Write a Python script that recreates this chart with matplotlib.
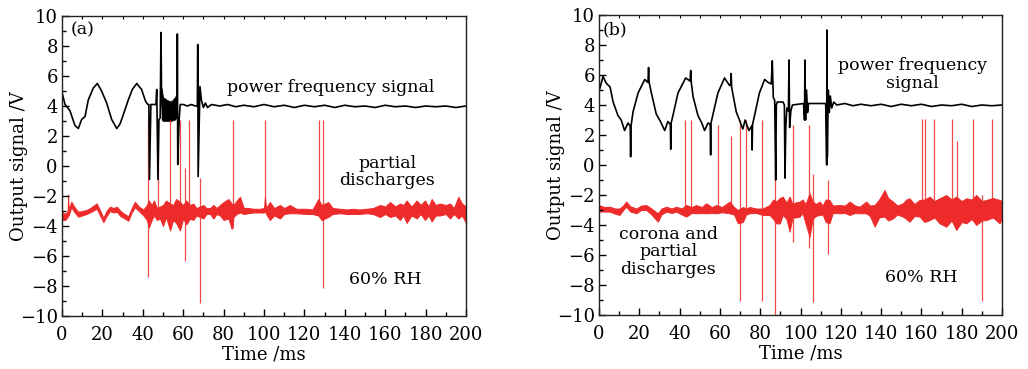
import matplotlib
matplotlib.use("Agg")
import matplotlib.pyplot as plt
from matplotlib.ticker import MultipleLocator

plt.rcParams['font.family'] = ['DejaVu Serif']
plt.rcParams['mathtext.fontset'] = 'dejavuserif'

# ---------------- Panel (a) data ----------------
a_black_t = [0, 1.5, 3.9, 6.4, 8.1, 9.7, 11.4, 13, 15.5, 17.5, 19.6, 22.1, 24.6, 27.1, 28.7,
             30.3, 32.8, 34.8, 37, 39.4, 41.4, 42.5, 43.0, 43.3, 44, 46.5, 46.9, 47.5, 48,
             48.6, 49.0, 49.3, 50, 52, 54, 56, 57.0, 57.1, 57.3, 58.0, 58.5, 60, 62, 64, 66,
             67.0, 67.2, 67.4, 68.3, 69, 70, 71, 72, 74, 78, 82, 86, 90, 95, 100, 105, 110,
             115, 120, 125, 130, 135, 140, 145, 150, 155, 160, 165, 170, 175, 180, 185, 190,
             195, 200]
a_black_v = [4.9, 4.1, 3.7, 2.7, 2.5, 3.1, 3.3, 4.4, 5.2, 5.5, 5.0, 4.2, 3.1, 2.5, 2.8,
             3.4, 4.4, 5.1, 5.5, 5.1, 4.3, 4.1, 4.1, -0.9, 4.1, 4.1, 5.1, -0.9, 3.1,
             3.2, 8.9, 4.6, 3.2, 4.2, 3.2, 4.4, 3.6, 8.8, 0.1, 3.1, 4.1, 4.1, 4.0, 4.1, 4.0,
             4.0, 8.1, -0.7, 5.3, 4.4, 3.9, 4.2, 3.9, 4.1, 4.0, 4.1, 3.95, 4.05, 3.95, 4.1, 3.95, 4.05,
             3.9, 4.05, 3.95, 4.05, 3.9, 4.05, 3.95, 4.0, 3.9, 4.05, 3.95, 4.0, 3.9, 4.0, 3.95, 4.0,
             3.9, 4.0]
a_bband_t = [49.3, 50, 52, 54, 56, 57.0]
a_bband_hi = [5.2, 4.6, 4.4, 4.3, 4.6, 5.0]
a_bband_lo = [3.1, 3.0, 3.0, 3.0, 3.1, 3.3]

a_red_t = [0, 1.5, 2.8, 3.0, 3.3, 4.6, 6, 8, 10, 12.2, 14.5, 17.2, 19, 20.5, 22, 23.8, 25.5,
           27.1, 29, 31, 32.8, 34.5, 36.1, 38, 40.3, 42, 43, 44.4, 45.5, 47, 48.5, 50, 51.5,
           53.5, 55, 56.5, 58.4, 60, 61.5, 63.4, 65, 66.5, 68.3, 70, 71.5, 73.3, 75, 76.5,
           78.2, 80, 82.4, 84, 84.9, 86.5, 88.1, 90, 92.2, 95, 98, 100.0, 100.5, 101.0,
           102.9, 105, 107.9, 110, 112.8, 116, 121.1, 124, 126.9, 128.5, 131.8, 134, 137.6,
           141, 144.2, 147, 150.8, 154, 157.4, 160, 162.4, 165, 167.3, 169, 170.6, 173,
           175.6, 177.5, 179.7, 181.5, 183, 185, 187.1, 190, 192.1, 194, 196.2, 198, 200]
a_red_hi = [-3.05, -3.2, -3.0, -1.9, -2.9, -2.38, -2.7, -3.05, -3.0, -2.93, -2.75, -2.49,
            -3.0, -3.45, -3.0, -2.71, -2.8, -2.71, -3.0, -3.2, -3.35, -2.8, -2.38, -2.7,
            -2.9, -2.6, -2.3, -2.6, -2.3, -2.8, -2.7, -2.6, -2.3, -2.5, -2.6, -2.2, -2.4,
            -2.6, -2.3, -2.6, -2.5, -2.8, -2.7, -2.6, -2.8, -2.8, -2.6, -2.8, -2.6, -2.4,
            -2.2, -2.5, -2.6, -2.3, -2.05, -2.8, -2.8, -2.85, -2.85, -2.8, -2.05, -2.8,
            -2.4, -2.8, -2.6, -2.8, -2.6, -2.85, -2.85, -2.9, -2.2, -2.6, -2.4, -2.8, -2.85,
            -2.9, -2.85, -2.9, -2.85, -2.8, -2.6, -2.7, -2.4, -2.7, -2.5, -2.6, -2.3, -2.7,
            -2.3, -2.6, -2.3, -2.7, -2.2, -2.6, -2.5, -2.6, -2.5, -2.8, -2.05, -2.5, -2.7]
a_red_lo = [-3.6, -3.6, -3.4, -3.2, -3.3, -2.75, -3.05, -3.38, -3.3, -3.2, -3.05, -2.85,
            -3.35, -3.75, -3.35, -3.0, -3.1, -3.05, -3.35, -3.5, -3.65, -3.1, -2.75, -3.0,
            -3.3, -3.6, -4.1, -3.6, -3.3, -3.6, -3.5, -4.0, -3.4, -4.3, -3.6, -3.8, -4.3,
            -3.5, -3.9, -3.5, -3.6, -3.3, -3.4, -3.5, -3.2, -3.2, -3.5, -3.2, -3.3, -3.6,
            -3.5, -4.2, -3.4, -3.2, -3.1, -3.2, -3.15, -3.1, -3.1, -3.1, -3.0, -3.2,
            -3.6, -3.3, -3.5, -3.2, -3.15, -3.15, -3.2, -3.2, -3.3, -3.6, -3.4, -3.2, -3.15,
            -3.2, -3.2, -3.2, -3.15, -3.2, -3.4, -3.2, -3.4, -3.3, -3.6, -3.3, -3.8, -3.3,
            -3.5, -3.2, -3.6, -3.3, -3.7, -3.3, -3.3, -3.2, -3.5, -3.2, -3.5, -3.3, -3.8]

a_spike_t = [42.7, 47.4, 53.5, 58.4, 61.0, 62.7, 68.3, 84.6, 100.5, 127.4, 129.4]
a_spike_top = [3.07, 2.6, 3.07, 3.07, -0.1, 3.07, -0.8, 3.07, 3.07, 3.07, 3.07]
a_spike_bot = [-7.4, -3.0, -3.0, -3.0, -6.3, -3.0, -9.1, -4.1, -3.0, -3.0, -8.1]

# ---------------- Panel (b) data ----------------
b_black_t = [0, 2, 3.6, 5.5, 7, 9.4, 11, 12.7, 14.4, 15.5, 15.7, 15.9, 16.9, 19.4, 22.7,
             24.3, 24.6, 24.9, 26, 28.4, 30.5, 32.6, 34.2, 35.4, 35.6, 35.8, 36.7, 39.2,
             43, 45.2, 45.5, 45.8, 46.7, 49.1, 51, 52.4, 54.1, 55.2, 55.4, 55.6, 56.6, 59,
             62.3, 64.8, 65.4, 65.6, 65.8, 68.1, 71.4, 72.5, 74.4, 75.8, 76.0, 76.2, 77.2,
             79.6, 82.2, 84, 85.5, 86.0, 86.5, 87.2, 87.7, 88.0, 88.5, 91.3, 92.0, 92.3,
             92.7, 93.2, 94.0, 94.3, 94.6, 95.2, 96, 101.5, 102.0, 102.2, 102.5, 103, 103.5,
             104, 108, 112.5, 113.0, 113.1, 113.3, 113.8, 114.3, 114.8, 115.5, 116.5, 118,
             122, 126, 130, 135, 140, 145, 150, 155, 160, 165, 170, 175, 180, 185, 190, 195,
             200]
b_black_v = [4.9, 5.9, 5.45, 5.2, 4.2, 3.3, 3.0, 2.3, 2.8, 2.6, 0.55, 2.6, 3.55, 4.8, 5.7,
             5.5, 6.5, 5.5, 4.8, 3.4, 2.9, 2.3, 2.9, 2.7, 1.05, 2.8, 3.3, 4.8,
             5.8, 5.6, 6.3, 5.5, 4.55, 3.3, 2.8, 2.3, 2.8, 2.7, 0.67, 2.8, 3.4, 4.8,
             5.8, 5.3, 5.4, 6.1, 5.2, 3.55, 2.4, 3.0, 2.3, 2.6, 1.0, 2.7, 3.3,
             4.8, 5.7, 5.5, 5.4, 6.95, 4.5, 4.3, -1.0, 4.0, 4.2, 4.2, 4.0, -0.87,
             2.5, 3.8, 3.6, 7.0, 2.5, 3.6, 4.0, 4.1, 3.0, 7.0, 3.0, 5.0, 3.5,
             4.1, 4.1, 4.1, 0.0, 9.0, 0.5, 5.0, 3.5, 4.6, 3.8, 4.2, 4.0,
             4.1, 3.95, 4.05, 3.95, 4.05, 3.9, 4.05, 3.95, 4.05, 3.9, 4.0, 3.95, 4.05, 3.9, 4.0,
             3.95, 4.0]

b_red_t = [0, 2.5, 5.3, 8, 10.2, 12, 13.5, 15.5, 18.5, 21, 23.5, 26, 29.2, 31, 33.4, 36,
           38.3, 41, 43.3, 46, 48.2, 51, 53.2, 56, 58.2, 61, 64.8, 67, 68.9, 71.4, 73, 74.7,
           78, 81.3, 84.6, 86.5, 87.9, 89.7, 91.2, 93, 94.6, 96, 97.5, 99.6, 101, 102.5,
           104.5, 106, 107.5, 109.5, 111, 112.5, 114.4, 116, 119.4, 122, 124.4, 127, 129.3,
           132.6, 134.5, 136.8, 139, 141.7, 143.5, 145.9, 148, 150.8, 152.5, 154.1, 156.5,
           159.1, 161.5, 164.1, 166.5, 169, 172.3, 175, 177.3, 180, 182.3, 185, 187.2, 190,
           192.2, 195.5, 198.8, 200]
b_red_hi = [-2.67, -2.8, -2.78, -2.9, -2.9, -2.7, -2.44, -2.75, -2.9, -2.7, -2.67, -2.9,
            -3.22, -2.9, -2.78, -2.9, -2.78, -2.9, -2.67, -2.8, -2.67, -2.8, -2.55, -2.8,
            -2.67, -2.8, -2.44, -2.8, -3.0, -2.8, -2.9, -2.8, -2.9, -2.9, -2.67, -2.3,
            -2.44, -2.2, -2.11, -2.5, -2.11, -2.6, -2.5, -2.44, -2.3, -2.6, -1.89, -2.4,
            -2.6, -2.44, -2.7, -2.3, -2.33, -2.7, -2.67, -2.7, -2.44, -2.7, -2.78, -2.44,
            -2.7, -2.67, -2.3, -1.67, -2.2, -2.44, -2.7, -2.55, -2.3, -2.22, -2.6, -2.33,
            -2.3, -2.11, -2.4, -2.22, -2.0, -2.3, -2.11, -2.4, -2.22, -2.3, -2.0, -2.4,
            -2.33, -2.2, -2.33, -2.4]
b_red_lo = [-3.11, -3.1, -3.11, -3.25, -3.33, -3.0, -2.78, -3.1, -3.22, -3.0, -3.0, -3.3,
            -3.78, -3.3, -3.11, -3.2, -3.11, -3.3, -3.44, -3.2, -3.22, -3.2, -3.22, -3.2,
            -3.22, -3.15, -3.22, -3.3, -3.89, -3.8, -3.3, -3.22, -3.2, -3.33, -3.33, -3.6,
            -3.89, -3.9, -3.33, -3.6, -4.44, -3.5, -3.5, -3.44, -3.2, -3.9, -4.78, -3.6,
            -3.4, -3.33, -3.3, -3.8, -3.89, -3.2, -3.22, -3.2, -3.33, -3.2, -3.22, -3.22,
            -3.4, -4.11, -3.5, -3.44, -3.7, -3.56, -3.3, -3.44, -3.6, -3.78, -3.4, -3.44,
            -3.8, -3.67, -3.5, -3.89, -4.11, -3.7, -4.33, -3.8, -3.89, -3.6, -4.0, -3.7,
            -3.67, -3.5, -3.89, -3.6]

b_spike_t = [42.6, 45.8, 58.9, 65.5, 70.0, 73.0, 81.0, 87.3, 96.4, 104.2, 106.3, 113.8,
             160.2, 161.8, 166.4, 175.0, 177.8, 185.5, 190.2, 195.2]
b_spike_top = [3.0, 3.0, 2.67, 1.93, 3.0, 3.0, 3.0, 3.0, 2.7, 2.7, -0.6, -1.0,
               3.05, 3.05, 3.05, 3.05, 1.6, 3.05, -2.0, 3.05]
b_spike_bot = [-3.0, -3.0, -3.0, -3.0, -9.05, -3.0, -9.05, -10.0, -5.1, -5.55, -9.1, -5.9,
               -3.0, -3.0, -3.0, -3.0, -3.0, -3.0, -9.05, -3.0]

x_ticks = [0, 20, 40, 60, 80, 100, 120, 140, 160, 180, 200]
y_ticks = [-10, -8, -6, -4, -2, 0, 2, 4, 6, 8, 10]

RED = '#ee2b2b'
TXT = 12.5

fig = plt.figure(figsize=(10.28, 3.69), dpi=100)
axA = fig.add_axes([62/1028, 1-316/369, 404/1028, 300/369])
axB = fig.add_axes([599/1028, 1-315/369, 403/1028, 300/369])


def style(ax):
    ax.set_xlim(0, 200)
    ax.set_ylim(-10, 10)
    ax.set_xticks(x_ticks)
    ax.set_yticks(y_ticks)
    ax.xaxis.set_minor_locator(MultipleLocator(10))
    ax.yaxis.set_minor_locator(MultipleLocator(1))
    ax.tick_params(which='major', direction='in', length=5, width=1.0, labelsize=13,
                   top=False, right=False)
    ax.tick_params(axis='x', which='major', pad=7)
    ax.tick_params(axis='y', which='major', pad=3)
    ax.tick_params(which='minor', direction='in', length=2.8, width=1.0,
                   top=False, right=False)
    for s in ax.spines.values():
        s.set_linewidth(1.0)
        s.set_color('#222222')
    sec = ax.secondary_xaxis('top')
    sec.set_xticks(list(range(0, 201, 10)))
    sec.tick_params(direction='in', length=2.5, width=0.8, labeltop=False)
    sec.spines['top'].set_visible(False)
    ax.set_xlabel('Time /ms', fontsize=13, labelpad=1)
    ax.set_ylabel('Output signal /V', fontsize=13, labelpad=-6)


def draw(ax, red_t, red_hi, red_lo, sp_t, sp_top, sp_bot, bt, bv):
    ax.fill_between(red_t, red_lo, red_hi, color=RED, lw=0.7, edgecolor=RED)
    ax.vlines(sp_t, sp_bot, sp_top, color=RED, lw=0.9, alpha=0.85)
    ax.plot(bt, bv, color='black', lw=1.2)


draw(axA, a_red_t, a_red_hi, a_red_lo, a_spike_t, a_spike_top, a_spike_bot,
     a_black_t, a_black_v)
axA.fill_between(a_bband_t, a_bband_lo, a_bband_hi, color='black', lw=0.5)
draw(axB, b_red_t, b_red_hi, b_red_lo, b_spike_t, b_spike_top, b_spike_bot,
     b_black_t, b_black_v)

style(axA)
style(axB)

axA.text(4.5, 9.05, '(a)', fontsize=TXT, ha='left', va='center')
axA.text(133, 5.25, 'power frequency signal', fontsize=TXT, ha='center', va='center')
axA.text(161, -0.4, 'partial\ndischarges', fontsize=TXT, ha='center', va='center',
         linespacing=1.05)
axA.text(160, -7.55, '60% RH', fontsize=TXT, ha='center', va='center')

axB.text(1.8, 9.0, '(b)', fontsize=TXT, ha='left', va='center')
axB.text(155.5, 6.05, 'power frequency\nsignal', fontsize=TXT, ha='center', va='center',
         linespacing=1.05)
axB.text(34.3, -5.8, 'corona and\npartial\ndischarges', fontsize=TXT, ha='center',
         va='center', linespacing=1.05)
axB.text(160, -7.5, '60% RH', fontsize=TXT, ha='center', va='center')

fig.savefig('out.png', dpi=100)
